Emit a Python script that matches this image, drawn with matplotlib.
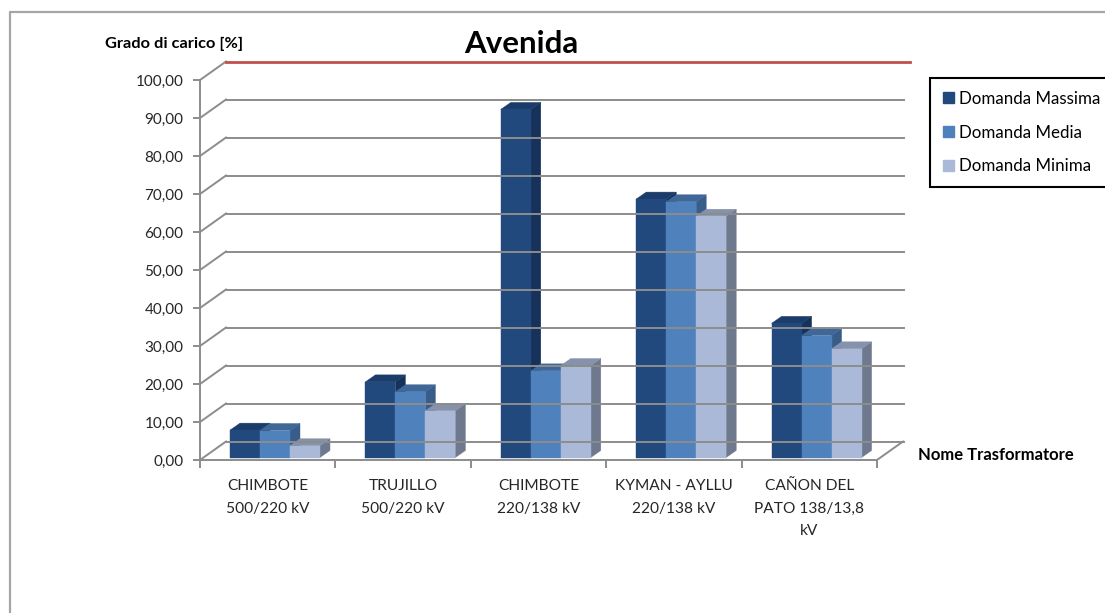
import numpy as np
import matplotlib.pyplot as plt
from matplotlib.patches import Polygon, Patch
from matplotlib.lines import Line2D

plt.rcParams['font.family'] = ['Lato', 'DejaVu Sans']

# Grado di carico per trasformatore [%]
categories = ['CHIMBOTE\n500/220 kV', 'TRUJILLO\n500/220 kV', 'CHIMBOTE\n220/138 kV',
              'KYMAN - AYLLU\n220/138 kV', 'CAÑON DEL\nPATO 138/13,8\nkV']
series = ['Domanda Massima', 'Domanda Media', 'Domanda Minima']
massima = [7.2, 19.9, 91.6, 68.0, 35.3]
media = [7.1, 17.3, 22.8, 67.3, 32.1]
minima = [3.1, 12.3, 24.2, 63.5, 28.6]
y_ticks = np.arange(0, 101, 10)

# front, side, top face colours for each series
colors = [('#21497e', '#16325a', '#1b3c69'),
          ('#4f81bd', '#385d8a', '#3f6798'),
          ('#abb9d8', '#6e798e', '#8692ab')]
grid_col = '#8c8c8c'

W, H = 1105, 613
fig = plt.figure(figsize=(W / 100, H / 100), dpi=100)

# frame around the chart area
fig.add_artist(Line2D([10 / W, 10 / W, 1], [0, 1 - 12 / H, 1 - 12 / H],
                      color='#a6a6a6', lw=1.6, transform=fig.transFigure))

ax = fig.add_axes([200 / W, (H - 460) / H, 710 / W, 398 / H])
px_x = 135.4  # pixels per category
px_y = 3.8    # pixels per percent
ax.set_xlim(0, 710 / px_x)
ax.set_ylim(0, 398 / px_y)
for s in ax.spines.values():
    s.set_visible(False)

# back wall gridlines with the side-wall diagonals
DX, DY = 26 / px_x, 18.5 / px_y
for v in y_ticks:
    ax.plot([0, DX], [v, v + DY], color=grid_col, lw=1.4, clip_on=False)
    if v == 100:
        ax.plot([DX, 710 / px_x], [v + DY, v + DY], color='#c0504d', lw=2.0, clip_on=False)
    else:
        ax.plot([DX, 704 / px_x], [v + DY, v + DY], color=grid_col, lw=1.4, clip_on=False)

# front vertical axis and floor
ax.plot([0, 0], [0, 100], color=grid_col, lw=1.4, clip_on=False)
ax.plot([0, 5, 5 + DX], [0, 0, DY], color=grid_col, lw=1.4, clip_on=False)

ax.set_yticks(y_ticks)
ax.set_yticklabels([f'{v:.2f}'.replace('.', ',') for v in y_ticks])
ax.tick_params(axis='y', length=5, width=1.4, color=grid_col, labelsize=11,
               labelcolor='#262626', pad=7)
ax.set_xticks(np.arange(5) + 0.5)
ax.set_xticklabels(categories, linespacing=1.75)
ax.set_xticks(np.arange(6), minor=True)
ax.tick_params(axis='x', which='major', length=0, labelsize=11.2, labelcolor='#262626', pad=14)
ax.tick_params(axis='x', which='minor', length=6, width=1.4, color=grid_col)

# pseudo-3D columns
base = 2.5 / px_y
bw = 30 / px_x
bdx, bdy = 10 / px_x, 7 / px_y
for i in range(len(categories)):
    for j, vals in enumerate([massima, media, minima]):
        x0 = i + bw + j * bw
        y0, y1 = base, base + vals[i]
        fc, sc, tc = colors[j]
        front = [(x0, y0), (x0 + bw, y0), (x0 + bw, y1), (x0, y1)]
        side = [(x0 + bw, y0), (x0 + bw + bdx, y0 + bdy), (x0 + bw + bdx, y1 + bdy), (x0 + bw, y1)]
        top = [(x0, y1), (x0 + bw, y1), (x0 + bw + bdx, y1 + bdy), (x0 + bdx, y1 + bdy)]
        ax.add_patch(Polygon(side, closed=True, facecolor=sc, edgecolor=sc, lw=0.3))
        ax.add_patch(Polygon(top, closed=True, facecolor=tc, edgecolor=tc, lw=0.3))
        ax.add_patch(Polygon(front, closed=True, facecolor=fc, edgecolor=fc, lw=0.3))

handles = [Patch(facecolor=c[0], edgecolor=c[0]) for c in colors]
leg = ax.legend(handles, series, loc='upper left', bbox_to_anchor=(930 / W, 1 - 78 / H),
                bbox_transform=fig.transFigure, frameon=True, fancybox=False,
                edgecolor='black', framealpha=1, fontsize=12.2, handlelength=0.65,
                handleheight=0.65, handletextpad=0.3, labelspacing=1.05, borderpad=0.75,
                borderaxespad=0)
leg.get_frame().set_linewidth(1.5)

fig.text(521 / W, 1 - 44 / H, 'Avenida', fontsize=22.5, fontweight='bold',
         ha='center', va='center')
fig.text(105 / W, 1 - 44 / H, 'Grado di carico [%]', fontsize=11.8, fontweight='bold',
         ha='left', va='center')
fig.text(918 / W, 1 - 455 / H, 'Nome Trasformatore', fontsize=12, fontweight='bold',
         ha='left', va='center')

fig.savefig('out.png', dpi=100)
